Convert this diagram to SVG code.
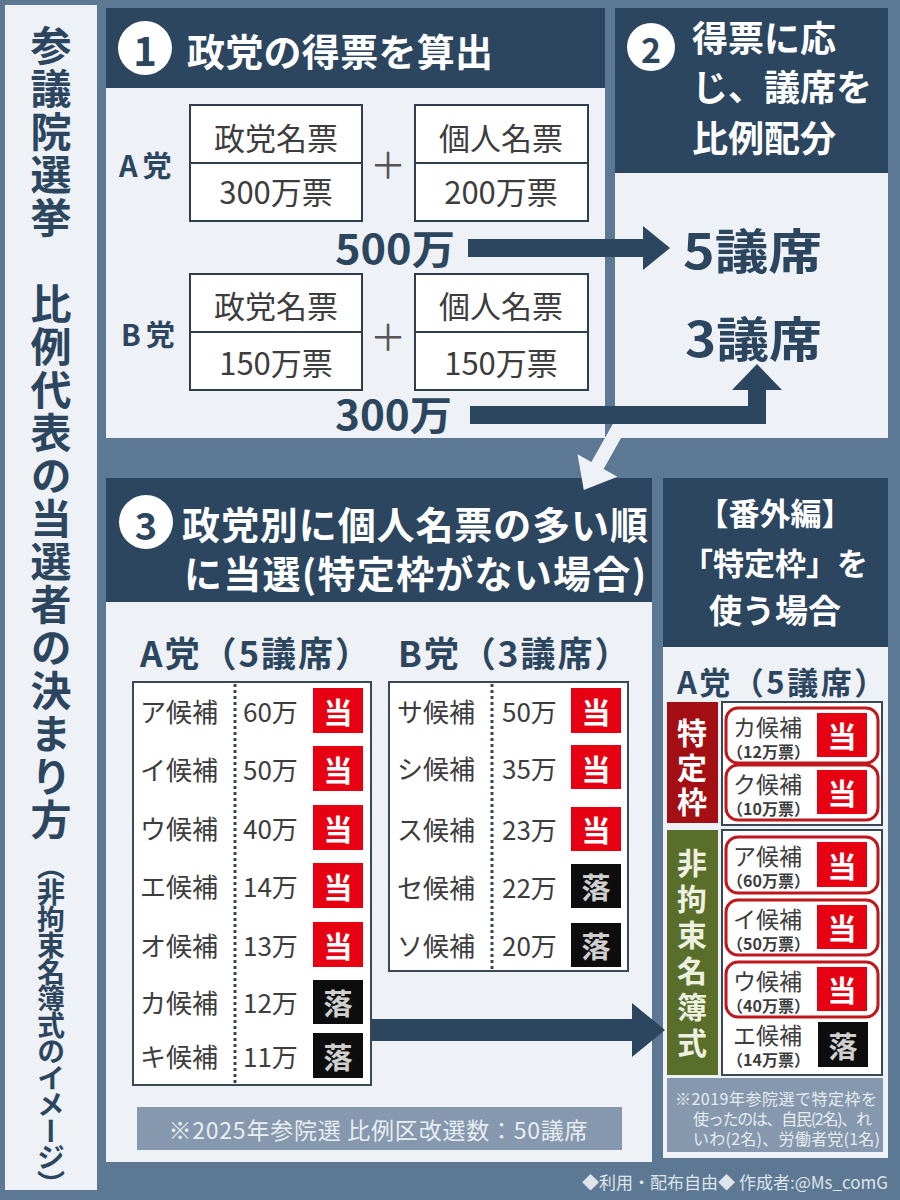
<svg xmlns="http://www.w3.org/2000/svg" width="900" height="1200" viewBox="0 0 900 1200">
<defs>
<style>
.jp{font-family:"Noto Sans CJK JP","Noto Sans",sans-serif}
.b{font-weight:700}
.dk{fill:#2c4660}
.wt{fill:#ffffff}
.tb{fill:#3d3d3d;font-size:26px}
.hdr{fill:#2c4660}
.body{fill:#eef1f5}
.box{fill:#ffffff;stroke:#2f3e4e;stroke-width:2}
.red{fill:#e60012}
.blk{fill:#0d0d0d}
.tou{fill:#ffffff;font-weight:700;font-size:29px}
.raku{fill:#cfcfcf;font-weight:700;font-size:29px}
.tbl{fill:#ffffff;stroke:#3a4856;stroke-width:2}
.dot{stroke:#3a4856;stroke-width:3;stroke-dasharray:3 3}
.pill{fill:#ffffff;stroke:#c0161c;stroke-width:3}
.arrD{fill:#2c4660}
.arrL{fill:#eef1f5}
.c{text-anchor:middle}
.m{dominant-baseline:central}
.nm{fill:#3d3d3d;font-size:23px}
.sub{fill:#3d3d3d;font-size:16px;font-weight:700}
.vt{font-size:30px;font-weight:700;writing-mode:vertical-rl}
</style>
</defs>
<rect width="900" height="1200" fill="#5d7892"/>

<g id="title">
<rect x="5" y="5" width="92" height="1185" class="body"/>
<text x="51" y="25" class="jp b dk" font-size="41" letter-spacing="2" style="writing-mode:vertical-rl">参議院選挙　比例代表の当選者の決まり方</text>
<text x="51" y="852" class="jp b dk" font-size="28" letter-spacing="-1.5" style="writing-mode:vertical-rl">（非拘束名簿式のイメージ）</text>
</g>

<g id="step1">
<rect x="106" y="8" width="499" height="80" class="hdr"/>
<rect x="106" y="88" width="499" height="350" class="body"/>
<circle cx="145" cy="48" r="27" fill="#ffffff"/>
<text x="145" y="49" class="jp b dk c m" font-size="40">1</text>
<text x="187" y="49" class="jp b wt m" font-size="38" textLength="306">政党の得票を算出</text>
</g>

<g id="partyA">
<text x="119" y="164" class="jp b dk m" font-size="29" letter-spacing="5">A党</text>
<g id="partyA-party">
<rect x="190" y="105" width="172" height="116" class="box"/>
<line x1="190" y1="163" x2="362" y2="163" stroke="#2f3e4e" stroke-width="2"/>
<text x="276" y="136" class="jp tb c m" style="font-size:31px">政党名票</text>
<text x="276" y="190" class="jp tb c m" style="font-size:31px">300万票</text>
</g>
<text x="388" y="163" class="jp c m" font-size="36" fill="#555">＋</text>
<g id="partyA-personal">
<rect x="415" y="105" width="173" height="116" class="box"/>
<line x1="415" y1="163" x2="588" y2="163" stroke="#2f3e4e" stroke-width="2"/>
<text x="501" y="136" class="jp tb c m" style="font-size:31px">個人名票</text>
<text x="501" y="190" class="jp tb c m" style="font-size:31px">200万票</text>
</g>
<text x="335" y="247" class="jp b dk m" font-size="40" textLength="120" lengthAdjust="spacingAndGlyphs">500万</text>
</g>

<g id="partyB">
<text x="121" y="333" class="jp b dk m" font-size="29" letter-spacing="5">B党</text>
<g id="partyB-party">
<rect x="190" y="274" width="172" height="116" class="box"/>
<line x1="190" y1="332" x2="362" y2="332" stroke="#2f3e4e" stroke-width="2"/>
<text x="276" y="304" class="jp tb c m" style="font-size:31px">政党名票</text>
<text x="276" y="361" class="jp tb c m" style="font-size:31px">150万票</text>
</g>
<text x="388" y="335" class="jp c m" font-size="36" fill="#555">＋</text>
<g id="partyB-personal">
<rect x="415" y="274" width="173" height="116" class="box"/>
<line x1="415" y1="332" x2="588" y2="332" stroke="#2f3e4e" stroke-width="2"/>
<text x="501" y="304" class="jp tb c m" style="font-size:31px">個人名票</text>
<text x="501" y="361" class="jp tb c m" style="font-size:31px">150万票</text>
</g>
<text x="335" y="413" class="jp b dk m" font-size="40" textLength="117" lengthAdjust="spacingAndGlyphs">300万</text>
</g>

<g id="step2">
<rect x="615" y="8" width="273" height="165" class="hdr"/>
<rect x="615" y="173" width="273" height="265" class="body"/>
<circle cx="651" cy="47" r="24" fill="#ffffff"/>
<text x="651" y="48" class="jp b dk c m" font-size="34">2</text>
<text x="692" y="52" class="jp b wt" font-size="36">得票に応</text>
<text x="692" y="101" class="jp b wt" font-size="36">じ、議席を</text>
<text x="692" y="152" class="jp b wt" font-size="36">比例配分</text>
<text x="683" y="248" class="jp b dk m" font-size="48" textLength="139" lengthAdjust="spacingAndGlyphs">5議席</text>
<text x="685" y="336" class="jp b dk m" font-size="48" textLength="137" lengthAdjust="spacingAndGlyphs">3議席</text>
</g>

<g id="step3">
<rect x="106" y="478" width="546" height="124" class="hdr"/>
<rect x="106" y="602" width="546" height="560" class="body"/>
<circle cx="146" cy="522" r="27" fill="#ffffff"/>
<text x="146" y="523" class="jp b dk c m" font-size="38">3</text>
<text x="182" y="522" class="jp b wt m" font-size="38" textLength="466">政党別に個人名票の多い順</text>
<text x="184" y="571" class="jp b wt m" font-size="38" textLength="462">に当選(特定枠がない場合)</text>
<rect x="137" y="1107" width="485" height="43" fill="#8598ad"/>
<text x="378" y="1129" class="jp c m" font-size="23" fill="#e8edf2" textLength="419">※2025年参院選 比例区改選数：50議席</text>
</g>

<g id="tableA">
<text x="140" y="651" class="jp b dk m" font-size="35" letter-spacing="2">A党（5議席）</text>
<rect x="133" y="682" width="238" height="403" class="tbl"/>
<line x1="235" y1="684" x2="235" y2="1083" class="dot"/>
<g class="jp">
<text x="140" y="710" class="tb m">ア候補</text><text x="243" y="710" class="tb m">60万</text>
<text x="140" y="768" class="tb m">イ候補</text><text x="243" y="768" class="tb m">50万</text>
<text x="140" y="827" class="tb m">ウ候補</text><text x="243" y="827" class="tb m">40万</text>
<text x="140" y="885" class="tb m">エ候補</text><text x="243" y="885" class="tb m">14万</text>
<text x="140" y="944" class="tb m">オ候補</text><text x="243" y="944" class="tb m">13万</text>
<text x="140" y="1001" class="tb m">カ候補</text><text x="243" y="1001" class="tb m">12万</text>
<text x="140" y="1055" class="tb m">キ候補</text><text x="243" y="1055" class="tb m">11万</text>
</g>
<rect x="313" y="688" width="50" height="45" class="red"/><text x="338" y="711" class="jp tou c m">当</text>
<rect x="313" y="746" width="50" height="45" class="red"/><text x="338" y="769" class="jp tou c m">当</text>
<rect x="313" y="805" width="50" height="45" class="red"/><text x="338" y="828" class="jp tou c m">当</text>
<rect x="313" y="863" width="50" height="45" class="red"/><text x="338" y="886" class="jp tou c m">当</text>
<rect x="313" y="922" width="50" height="45" class="red"/><text x="338" y="945" class="jp tou c m">当</text>
<rect x="313" y="980" width="50" height="44" class="blk"/><text x="338" y="1002" class="jp raku c m">落</text>
<rect x="313" y="1033" width="50" height="45" class="blk"/><text x="338" y="1056" class="jp raku c m">落</text>
</g>

<g id="tableB">
<text x="398" y="651" class="jp b dk m" font-size="35" letter-spacing="2">B党（3議席）</text>
<rect x="389" y="682" width="239" height="289" class="tbl"/>
<line x1="492" y1="684" x2="492" y2="969" class="dot"/>
<g class="jp">
<text x="397" y="710" class="tb m">サ候補</text><text x="502" y="710" class="tb m">50万</text>
<text x="397" y="767" class="tb m">シ候補</text><text x="502" y="767" class="tb m">35万</text>
<text x="397" y="828" class="tb m">ス候補</text><text x="502" y="828" class="tb m">23万</text>
<text x="397" y="886" class="tb m">セ候補</text><text x="502" y="886" class="tb m">22万</text>
<text x="397" y="944" class="tb m">ソ候補</text><text x="502" y="944" class="tb m">20万</text>
</g>
<rect x="571" y="688" width="50" height="45" class="red"/><text x="596" y="711" class="jp tou c m">当</text>
<rect x="571" y="745" width="50" height="44" class="red"/><text x="596" y="768" class="jp tou c m">当</text>
<rect x="571" y="807" width="50" height="44" class="red"/><text x="596" y="829" class="jp tou c m">当</text>
<rect x="571" y="864" width="50" height="44" class="blk"/><text x="596" y="886" class="jp raku c m">落</text>
<rect x="571" y="923" width="50" height="44" class="blk"/><text x="596" y="945" class="jp raku c m">落</text>
</g>

<g id="bonus">
<rect x="663" y="478" width="225" height="169" class="hdr"/>
<rect x="663" y="647" width="225" height="511" class="body"/>
<text x="775" y="525" class="jp b wt c" font-size="31">【番外編】</text>
<text x="775" y="575" class="jp b wt c" font-size="31">「特定枠」を</text>
<text x="775" y="623" class="jp b wt c" font-size="33">使う場合</text>
<text x="677" y="680" class="jp b dk m" font-size="31" letter-spacing="2.5">A党（5議席）</text>
</g>

<g id="tokuteiwaku">
<rect x="667" y="702" width="51" height="121" fill="#a30f13"/>
<text x="692" y="718" class="jp vt wt" letter-spacing="4.5">特定枠</text>
<rect x="722" y="702" width="160" height="123" class="tbl"/>
<rect x="726" y="708" width="152" height="55" rx="12" class="pill"/>
<text x="733" y="726" class="jp m nm">カ候補</text>
<text x="727" y="751" class="jp m sub">（12万票）</text>
<rect x="817" y="713" width="50" height="44" class="red"/><text x="842" y="735" class="jp tou c m">当</text>
<rect x="726" y="765" width="152" height="55" rx="12" class="pill"/>
<text x="733" y="783" class="jp m nm">ク候補</text>
<text x="727" y="808" class="jp m sub">（10万票）</text>
<rect x="817" y="770" width="50" height="44" class="red"/><text x="842" y="792" class="jp tou c m">当</text>
</g>

<g id="hikousoku">
<rect x="667" y="830" width="51" height="245" fill="#5a6e2b"/>
<text x="692" y="848" class="jp vt" fill="#eef0e0" letter-spacing="6">非拘束名簿式</text>
<rect x="722" y="830" width="160" height="245" class="tbl"/>
<rect x="726" y="837" width="152" height="56" rx="12" class="pill"/>
<text x="733" y="855" class="jp m nm">ア候補</text>
<text x="727" y="880" class="jp m sub">（60万票）</text>
<rect x="817" y="842" width="50" height="45" class="red"/><text x="842" y="865" class="jp tou c m">当</text>
<rect x="726" y="900" width="152" height="55" rx="12" class="pill"/>
<text x="733" y="918" class="jp m nm">イ候補</text>
<text x="727" y="943" class="jp m sub">（50万票）</text>
<rect x="817" y="905" width="50" height="44" class="red"/><text x="842" y="927" class="jp tou c m">当</text>
<rect x="726" y="962" width="152" height="55" rx="12" class="pill"/>
<text x="733" y="980" class="jp m nm">ウ候補</text>
<text x="727" y="1005" class="jp m sub">（40万票）</text>
<rect x="817" y="967" width="50" height="44" class="red"/><text x="842" y="989" class="jp tou c m">当</text>
<text x="733" y="1034" class="jp m nm">エ候補</text>
<text x="727" y="1059" class="jp m sub">（14万票）</text>
<rect x="818" y="1022" width="50" height="45" class="blk"/><text x="843" y="1045" class="jp raku c m">落</text>
<rect x="667" y="1078" width="216" height="74" fill="#8598ad"/>
<text x="675" y="1098" class="jp m" font-size="16" fill="#e6ebf0" textLength="202">※2019年参院選で特定枠を</text>
<text x="693" y="1118" class="jp m" font-size="16" fill="#e6ebf0" textLength="179">使ったのは、自民(2名)、れ</text>
<text x="693" y="1138" class="jp m" font-size="16" fill="#e6ebf0" textLength="187">いわ(2名)、労働者党(1名)</text>
</g>

<g id="connectors">
<polygon class="arrL" points="615.9,418.6 591.4,462.1 577.5,454.2 583.8,489.9 617.5,476.8 603.6,468.9 628.1,425.4"/>
<polygon class="arrD" points="468,239 643,239 643,226 670,248 643,270 643,257 468,257"/>
<polygon class="arrD" points="470,406 748,406 748,390 732,390 757,364 782,390 766,390 766,424 470,424"/>
<polygon class="arrD" points="372,1019 632,1019 632,1003 665,1030 632,1057 632,1041 372,1041"/>
</g>

<text x="888" y="1181" class="jp m" font-size="17" fill="#dde4ec" text-anchor="end">◆利用・配布自由◆ 作成者:@Ms_comG</text>
</svg>
